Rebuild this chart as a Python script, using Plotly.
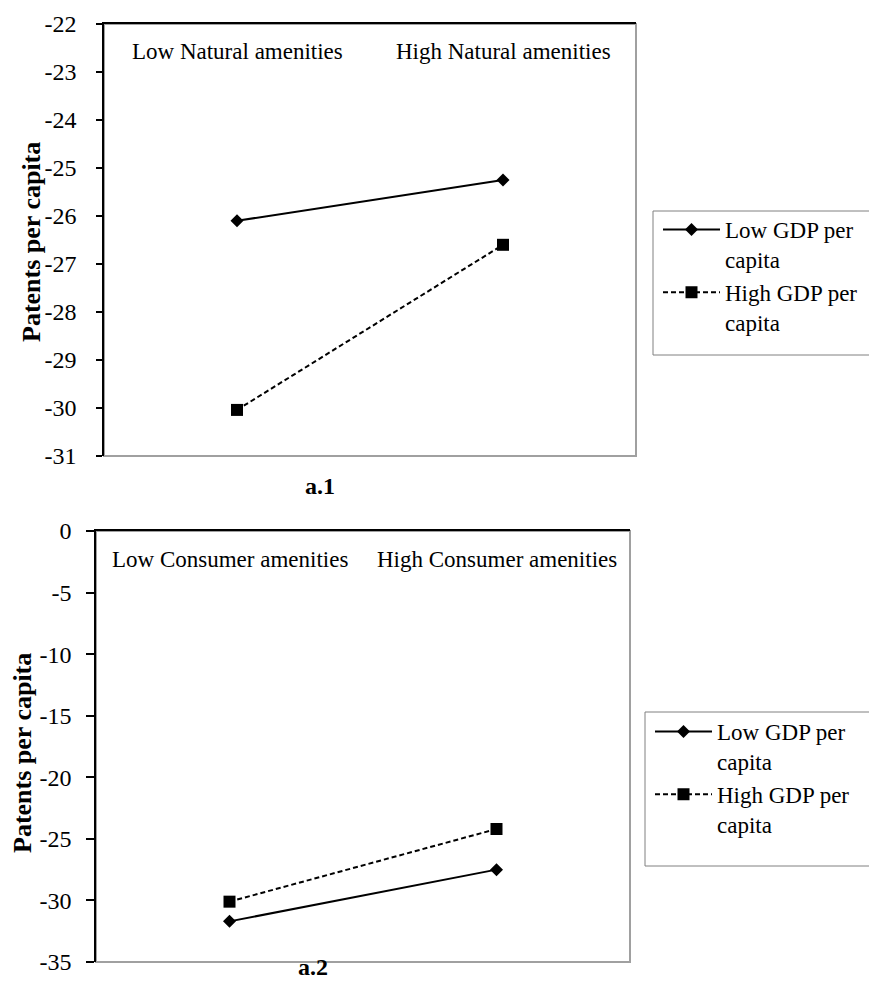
import plotly.graph_objects as go

# ---- data ----
cats_top = ["Low Natural amenities", "High Natural amenities"]
cats_bot = ["Low Consumer amenities", "High Consumer amenities"]
series_names = ["Low GDP per<br>capita", "High GDP per<br>capita"]
top_low_gdp = [-26.1, -25.25]
top_high_gdp = [-30.04, -26.6]
bot_low_gdp = [-31.7, -27.5]
bot_high_gdp = [-30.1, -24.2]
top_yticks = [-22, -23, -24, -25, -26, -27, -28, -29, -30, -31]
top_ytick_labels = ["-22", "-23", "-24", "-25", "-26", "-27", "-28", "-29", "-30", "-31"]
bot_yticks = [0, -5, -10, -15, -20, -25, -30, -35]
bot_ytick_labels = ["0", "-5", "-10", "-15", "-20", "-25", "-30", "-35"]
y_title = "Patents per capita"
panel_labels = ["a.1", "a.2"]

W, H = 877, 989
SERIF = "Liberation Serif"

def px_x(p):
    return p / W

def px_y(p):
    return 1 - p / H

fig = go.Figure()

styles = [
    dict(line=dict(color="black", width=2), marker=dict(symbol="diamond", size=10, color="black")),
    dict(line=dict(color="black", width=2, dash="5px,3px"), marker=dict(symbol="square", size=12, color="black")),
]

for name, vals, st in zip(series_names, [top_low_gdp, top_high_gdp], styles):
    fig.add_trace(go.Scatter(x=cats_top, y=vals, name=name, mode="lines+markers",
                             xaxis="x", yaxis="y", legend="legend", **st))
for name, vals, st in zip(series_names, [bot_low_gdp, bot_high_gdp], styles):
    fig.add_trace(go.Scatter(x=cats_bot, y=vals, name=name, mode="lines+markers",
                             xaxis="x2", yaxis="y2", legend="legend2", **st))

common_x = dict(type="category", range=[-0.5, 1.5], showgrid=False, zeroline=False,
                showticklabels=False, ticks="", side="top", showline=True,
                linecolor="black", linewidth=1.5, fixedrange=True)
common_y = dict(showgrid=False, zeroline=False, showline=True, linecolor="black",
                linewidth=1.5, ticks="outside", tickcolor="black", tickwidth=1.5,
                tickfont=dict(family=SERIF, size=24, color="black"), automargin=False)

legend_font = dict(family=SERIF, size=23, color="black")

fig.update_layout(
    width=W, height=H,
    margin=dict(l=0, r=0, t=0, b=0),
    paper_bgcolor="white", plot_bgcolor="white",
    font=dict(family=SERIF, color="black"),
    xaxis=dict(domain=[px_x(96), px_x(628)], anchor="y", **common_x),
    yaxis=dict(domain=[px_y(448), px_y(16)], anchor="x", range=[-31, -22],
               tickvals=top_yticks, ticktext=top_ytick_labels, ticklen=6,
               ticklabelstandoff=15, **common_y),
    xaxis2=dict(domain=[px_x(88), px_x(622)], anchor="y2", **common_x),
    yaxis2=dict(domain=[px_y(954), px_y(523)], anchor="x2", range=[-35, 0],
                tickvals=bot_yticks, ticktext=bot_ytick_labels, ticklen=8,
                ticklabelstandoff=10, **common_y),
    legend=dict(x=px_x(650), y=px_y(200), xanchor="left", yanchor="top",
                font=legend_font, itemwidth=57,
                valign="top", bgcolor="rgba(0,0,0,0)", borderwidth=0, tracegroupgap=0),
    legend2=dict(x=px_x(642), y=px_y(702), xanchor="left", yanchor="top",
                 font=legend_font, itemwidth=57,
                 valign="top", bgcolor="rgba(0,0,0,0)", borderwidth=0, tracegroupgap=0),
    showlegend=True,
)

# plot-area borders (gray) and legend boxes
for xr, yr in [("x domain", "y domain"), ("x2 domain", "y2 domain")]:
    fig.add_shape(type="rect", xref=xr, yref=yr, x0=0, x1=1, y0=0, y1=1,
                  line=dict(color="#a0a0a0", width=2), layer="below")
fig.add_shape(type="rect", xref="paper", yref="paper", x0=px_x(645), x1=px_x(876),
              y0=px_y(347), y1=px_y(203), line=dict(color="#808080", width=1), layer="below")
fig.add_shape(type="rect", xref="paper", yref="paper", x0=px_x(637), x1=px_x(876),
              y0=px_y(858), y1=px_y(704), line=dict(color="#808080", width=1), layer="below")

# category labels inside plot, at the top
for cats, xr, yr in [(cats_top, "x", "y domain"), (cats_bot, "x2", "y2 domain")]:
    for c in cats:
        fig.add_annotation(x=c, y=1, xref=xr, yref=yr, text=c, showarrow=False,
                           yanchor="middle", yshift=-28,
                           font=dict(family=SERIF, size=23, color="black"))

# y titles
fig.add_annotation(x=px_x(23), y=px_y(234), xref="paper", yref="paper", text="<b>" + y_title + "</b>",
                   textangle=-90, showarrow=False, xanchor="center", yanchor="middle",
                   font=dict(family=SERIF, size=26, color="black"))
fig.add_annotation(x=px_x(14), y=px_y(745), xref="paper", yref="paper", text="<b>" + y_title + "</b>",
                   textangle=-90, showarrow=False, xanchor="center", yanchor="middle",
                   font=dict(family=SERIF, size=26, color="black"))

# panel labels
fig.add_annotation(x=px_x(312), y=px_y(478), xref="paper", yref="paper", text="<b>" + panel_labels[0] + "</b>",
                   showarrow=False, font=dict(family=SERIF, size=24, color="black"))
fig.add_annotation(x=px_x(305), y=px_y(974), xref="paper", yref="paper", text="<b>" + panel_labels[1] + "</b>",
                   showarrow=False, font=dict(family=SERIF, size=24, color="black"))

fig.write_html("out.html")
